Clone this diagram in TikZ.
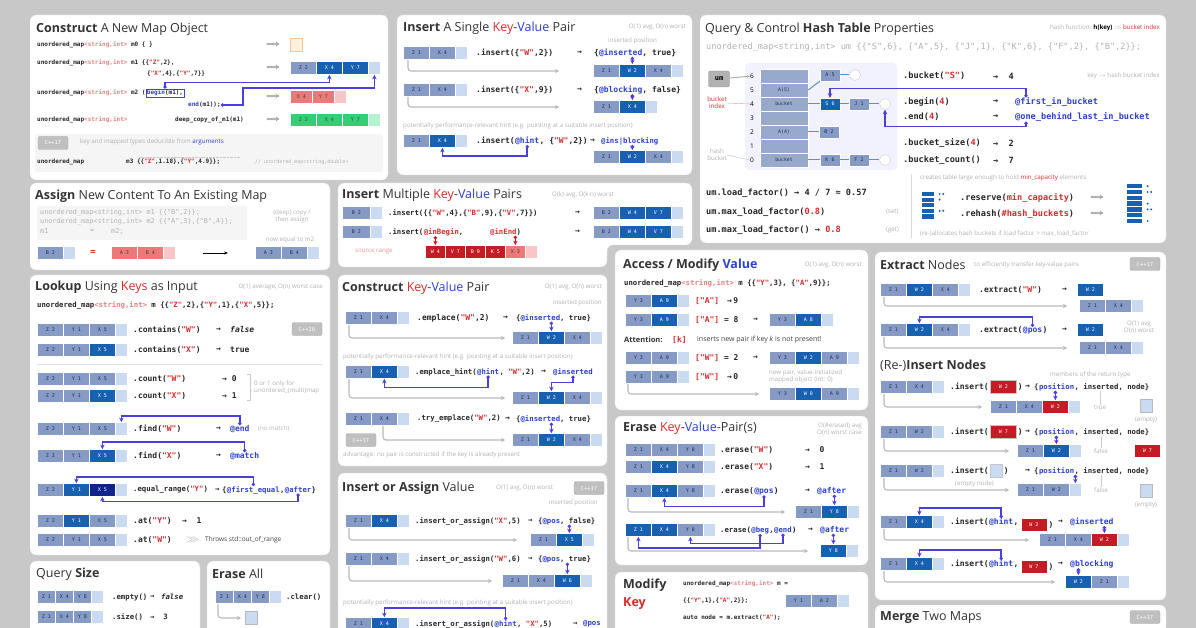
\documentclass[tikz,border=0pt]{standalone}
\usepackage{fontspec}
\usepackage{amssymb}
\setmainfont{Open Sans}
\newfontfamily\codefont{DejaVu Sans Mono}
\usetikzlibrary{arrows.meta,positioning,calc}

\definecolor{bggray}{RGB}{200,200,200}
\definecolor{cellN}{RGB}{133,154,196}
\definecolor{cellE}{RGB}{202,218,241}
\definecolor{cellH}{RGB}{24,96,176}
\definecolor{cellHH}{RGB}{16,36,140}
\definecolor{cellR}{RGB}{236,120,120}
\definecolor{cellRd}{RGB}{196,28,36}
\definecolor{cellER}{RGB}{248,198,198}
\definecolor{cellG}{RGB}{52,206,118}
\definecolor{cellEG}{RGB}{178,242,206}
\definecolor{connblue}{RGB}{74,62,222}
\definecolor{keyred}{RGB}{212,44,44}
\definecolor{valblue}{RGB}{44,64,204}
\definecolor{txtN}{RGB}{36,46,78}

\newcommand\ttxt[1]{\textcolor{keyred!60}{#1}}
\newcommand\ktxt[1]{\textcolor{keyred}{#1}}
\newcommand\itxt[1]{\textcolor{valblue}{#1}}
\newcommand\rarr{→}
\newcommand\Rarr{$\Longrightarrow$}
% one row of map cells: [cell width]{name}{x}{y}{kind/text,...}
\newcommand\maprow[5][26]{%
  \foreach \k/\t [count=\i] in {#5}
    \node[minimum width=#1pt,\k] (#2-\i) at ({#3+(\i-1)*#1},#4) {\t};}

\tikzset{
  panel/.style={fill=white, draw=gray!25, rounded corners=6pt},
  ttl/.style={anchor=west, inner sep=0pt, text=black!80, font=\fontsize{12.5}{14}\selectfont},
  code/.style={anchor=west, inner sep=0pt, text=black!85, font=\codefont\bfseries\fontsize{8}{9}\selectfont},
  code7/.style={code, font=\codefont\bfseries\fontsize{7.3}{8}\selectfont},
  code6/.style={code, font=\codefont\bfseries\fontsize{6}{7}\selectfont},
  codeh/.style={code, font=\codefont\bfseries\fontsize{8.6}{9}\selectfont},
  note/.style={anchor=west, inner sep=0pt, text=gray!60, align=left, font=\fontsize{6.2}{7.2}\selectfont},
  cell/.style={anchor=west, draw=white, line width=0.7pt, minimum height=13pt, inner sep=0pt, font=\codefont\fontsize{5}{6}\selectfont},
  cN/.style={cell, fill=cellN, text=txtN},
  cH/.style={cell, fill=cellH, text=white},
  cHH/.style={cell, fill=cellHH, text=white},
  cE/.style={cell, fill=cellE, minimum width=12pt},
  cR/.style={cell, fill=cellR, text=black!75},
  cRd/.style={cell, fill=cellRd, text=white},
  cER/.style={cell, fill=cellER, minimum width=12pt},
  cG/.style={cell, fill=cellG, text=black!75},
  cEG/.style={cell, fill=cellEG, minimum width=12pt},
  badge/.style={fill=gray!50, draw=gray!65, rounded corners=2pt, text=white, inner sep=0pt, minimum width=30pt, minimum height=13pt, font=\codefont\fontsize{5.5}{6}\selectfont},
  hook/.style={draw=gray!55, line width=1.1pt, rounded corners=3pt, -{Stealth[length=4pt,width=4pt]}},
  conn/.style={draw=connblue, line width=1.4pt, {Circle[length=3.2pt]}-{Stealth[length=4.5pt,width=4.5pt]}},
  bucket/.style={draw=white, line width=0.6pt, fill=cellN!85, minimum width=48pt, minimum height=14pt, inner sep=0pt, text=txtN, font=\codefont\fontsize{4.8}{5}\selectfont},
  hn/.style={draw=white, fill=cellN, minimum width=20pt, minimum height=12pt, inner sep=0pt, text=txtN, font=\codefont\fontsize{5}{6}\selectfont},
  hnull/.style={circle, draw=gray!40, fill=white, minimum size=11pt, inner sep=0pt},
  link/.style={draw=cellH!70, line width=1pt},
}

\begin{document}
\begin{tikzpicture}[x=1pt,y=-1pt]
\useasboundingbox (0,0) rectangle (1196,628);
\fill[bggray] (0,0) rectangle (1196,628);

% construct
\draw[panel] (30,15) rectangle (388,180);
\node[ttl] (t-con) at (36,29) {\textbf{Construct} A New Map Object};
\node[code6] (m0c) at (37,45) {unordered\_map\ttxt{<string,int>} m0 \{ \}};
\node[code] (m0a) at (266,45) {\Rarr};
\node[cell, fill=orange!12, draw=orange!45, minimum width=12pt] (m0-1) at (290,45) {};
\node[code6] (m1c) at (37,63) {unordered\_map\ttxt{<string,int>} m1 \{\{\ktxt{"Z"},2\},};
\node[code6] (m1d) at (147,74) {\{\ktxt{"X"},4\},\{\ktxt{"Y"},7\}\}};
\node[code] (m1a) at (266,68) {\Rarr};
\maprow{m1}{290}{68}{cN/Z 2,cH/X 4,cH/Y 7,cE/{}}
\node[code6] (m2c) at (37,93) {unordered\_map\ttxt{<string,int>} m2 (};
\node[code6, anchor=base west, draw=connblue, inner sep=1pt] (bm1) at (m2c.base east) {\itxt{begin}(m1),};
\node[code6] (em1) at (188,105) {\itxt{end}(m1));};
\node[code] (m2a) at (266,97) {\Rarr};
\maprow[22]{m2}{290}{97}{cR/X 4,cR/Y 7,cER/{}}
\draw[conn] (bm1.north) -- ++(0,-6) -| (m1-2.south);
\draw[conn] (em1.east) -- ++(22,0) |- ($(m1-4.south)+(0,13)$) -- (m1-4.south);
\node[code6] (dcc) at (37,120) {unordered\_map\ttxt{<string,int>}};
\node[code6] (dcd) at (175,120) {deep\_copy\_of\_m1(m1)};
\node[code] (dca) at (266,120) {\Rarr};
\maprow{dc}{290}{120}{cG/Z 2,cG/X 4,cG/Y 7,cEG/{}}
\fill[gray!8, rounded corners=3pt] (35,134) rectangle (383,172);
\node[badge] (b17a) at (53,143) {C++17};
\node[note] (dedn) at (80,142) {key and mapped types deducible from \itxt{arguments}};
\node[code6] (m3c) at (37,162) {unordered\_map};
\node[code6] (m3d) at (126,162) {m3 \{\{\ktxt{"Z"},1.18\},\{\ktxt{"Y"},4.9\}\};};
\node[note, font=\codefont\fontsize{5}{6}\selectfont] (m3n) at (255,162) {// unordered\_map<string,double>};
\draw[gray!45, densely dotted] (m3d.north west) ++(14,-2) -- ++(100,0);

% insert single
\draw[panel] (397,15) rectangle (692,175);
\node[ttl] (t-ins) at (403,28) {\textbf{Insert} A Single \ktxt{Key}-\itxt{Value} Pair};
\node[note, anchor=east] (n-ins) at (686,27) {O(1) avg, O(n) worst};
\node[note] (ip1) at (608,41) {inserted position};
\maprow{i1}{403}{53}{cN/Z 1,cN/X 4,cE/{}}
\node[code] (i1c) at (476,53) {.insert(\{\ktxt{"W"},2\})};
\node[code] (i1a) at (577,53) {\rarr};
\node[code] (i1r) at (594,53) {\{\itxt{@inserted}, true\}};
\maprow{j1}{593}{71}{cN/Z 1,cH/W 2,cN/X 4,cE/{}}
\draw[conn] (i1r.south -| j1-2.north) -- (j1-2.north);
\draw[hook] ([xshift=5pt]i1-1.south west) |- ([xshift=-34pt]j1-1.west);
\maprow{i2}{403}{90}{cN/Z 1,cN/X 4,cE/{}}
\node[code] (i2c) at (476,90) {.insert(\{\ktxt{"X"},9\})};
\node[code] (i2a) at (577,90) {\rarr};
\node[code] (i2r) at (594,90) {\{\itxt{@blocking}, false\}};
\maprow{j2}{593}{107}{cN/Z 1,cH/X 4,cE/{}}
\draw[conn] (i2r.south -| j2-2.north) -- (j2-2.north);
\draw[hook] ([xshift=5pt]i2-1.south west) |- ([xshift=-34pt]j2-1.west);
\node[note] (hint1) at (403,126) {potentially performance-relevant hint (e.g. pointing at a suitable insert position)};
\maprow{i3}{403}{141}{cN/Z 1,cH/X 4,cE/{}}
\node[code] (i3c) at (476,141) {.insert(};
\node[code, anchor=base west] (i3h) at (i3c.base east) {\itxt{@hint}};
\node[code, anchor=base west] (i3d) at (i3h.base east) {, \{\ktxt{"W"},2\})};
\node[code] (i3a) at (590,141) {\rarr};
\node[code7] (i3r) at (601,141) {\itxt{@ins|blocking}};
\maprow{j3}{593}{157}{cN/Z 1,cH/W 2,cN/X 4,cE/{}}
\draw[conn] (i3h.south) -- ++(0,11) -| (i3-2.south);
\draw[conn] (i3r.south -| j3-2.north) -- (j3-2.north);

% hash table
\draw[panel] (700,15) rectangle (1166,243);
\node[ttl] (t-hash) at (705,29) {Query \& Control \textbf{Hash Table} Properties};
\node[note, anchor=east] (n-hash) at (1160,28) {hash function: \textcolor{black}{\textbf{h(key)}} $\Rightarrow$ \ktxt{bucket index}};
\node[code, text=gray!60, font=\codefont\fontsize{8.6}{9}\selectfont] (umc) at (706,47) {unordered\_map<string,int> um \{\{"S",6\}, \{"A",5\}, \{"J",1\}, \{"K",6\}, \{"F",2\}, \{"B",2\}\};};
\fill[blue!5, rounded corners=4pt] (745,63) rectangle (897,170);
\node[fill=gray!60, draw=gray!80, rounded corners=2pt, minimum width=21pt, minimum height=16pt, inner sep=0pt, font=\codefont\bfseries\fontsize{7}{8}\selectfont] (um) at (719,79) {um};
\foreach \b/\l in {6/{},5/A(5),4/bucket,3/{},2/A(4),1/{},0/bucket}{
  \node[inner sep=0pt, font=\fontsize{6.5}{7}\selectfont] (bi-\b) at (752,160-14*\b) {\b};
  \node[bucket] (bk-\b) at (784,160-14*\b) {\l};
}
\draw[gray!70, line width=0.9pt, -{Stealth[length=3pt]}] (um) -- (bi-6);
\node[hn] (hA) at (830,75) {A 5};
\node[hnull] (z6) at (855,75) {};
\node[hn, fill=cellH, text=white] (hS) at (830,104) {S 6};
\node[hn] (hJ) at (859,104) {J 1};
\node[hnull] (z4) at (885,104) {};
\node[hn] (hB) at (829,132) {B 2};
\node[hn] (hK) at (830,160) {K 6};
\node[hn] (hF) at (859,160) {F 2};
\node[hnull] (z0) at (885,160) {};
\draw[link] (bk-5.east) -- (hA.south west);
\draw[link] (hA) -- (z6);
\draw[link] (bk-4) -- (hS) -- (hJ) -- (z4);
\draw[link] (bk-2) -- (hB);
\draw[link] (bk-0) -- (hK) -- (hF) -- (z0);
\node[note, text=keyred, align=center, anchor=center] (lbi) at (717,103) {bucket\\index};
\draw[keyred!50, line width=0.4pt] (lbi.east) -- (bi-4.west);
\node[note, align=center, anchor=center] (lhb) at (717,155) {hash\\bucket};
\draw[gray!50, line width=0.4pt] (lhb.east) -- (bi-0.west);
\node[codeh] (qb) at (903,76) {.bucket(\ktxt{"S"})};
\node[codeh] (qba) at (993,76) {\rarr\ \ 4};
\node[note, anchor=east] (qbn) at (1160,76) {key $\rightarrow$ hash bucket index};
\node[codeh] (qbe) at (903,102) {.begin(\ktxt{4})};
\node[codeh] (qbea) at (993,102) {\rarr};
\node[codeh] (fib) at (1015,102) {\itxt{@first\_in\_bucket}};
\node[codeh] (qen) at (903,117) {.end(\ktxt{4})};
\node[codeh] (qena) at (993,117) {\rarr};
\node[codeh] (obl) at (1015,117) {\itxt{@one\_behind\_last\_in\_bucket}};
\draw[conn] ($(fib.north west)+(11,0)$) |- ($(hS.north)+(0,-9)$) -- (hS.north);
\draw[conn] ($(obl.south west)+(11,0)$) |- ($(z4.south)+(0,17)$) -- (z4.south);
\node[codeh] (qbs) at (903,143) {.bucket\_size(\ktxt{4})};
\node[codeh] (qbsa) at (993,143) {\rarr\ \ 2};
\node[codeh] (qbc) at (903,160) {.bucket\_count()};
\node[codeh] (qbca) at (993,160) {\rarr\ \ 7};
\node[codeh] (lf1) at (706,193) {um.load\_factor() \rarr\ 4 / 7 ≈ 0.57};
\node[codeh] (lf2) at (706,212) {um.max\_load\_factor(\ktxt{0.8})};
\node[note] (lf2n) at (886,212) {(set)};
\node[codeh] (lf3) at (706,230) {um.max\_load\_factor() \rarr\ \ktxt{0.8}};
\node[note] (lf3n) at (886,230) {(get)};
\draw[gray!30] (911,174) -- (911,238);
\node[note] (rsn) at (920,178) {creates table large enough to hold \ktxt{min\_capacity} elements};
\foreach \j in {0,...,4} \fill[cellH] (922,192+\j*5.6) rectangle (934,196.2+\j*5.6);
\foreach \j/\d in {0/2,1/1,3/2} \foreach \m in {1,...,\d} \fill[cellH] (936+\m*3.6,194+\j*5.6) circle (1.1pt);
\node[codeh] (rsv) at (960,198) {.reserve(\ktxt{min\_capacity})};
\node[code] (rsva) at (1090,198) {\Rarr};
\node[codeh] (rhs) at (960,214) {.rehash(\ktxt{\#hash\_buckets})};
\node[code] (rhsa) at (1090,214) {\Rarr};
\foreach \j in {0,...,6} \fill[cellH] (1127,184+\j*5.8) rectangle (1142,188.5+\j*5.8);
\foreach \j/\d in {0/1,1/2,3/1,4/2,6/1} \foreach \m in {1,...,\d} \fill[cellH] (1144+\m*3.6,186.2+\j*5.8) circle (1.1pt);
\node[note] (rhn) at (920,234) {(re-)allocates hash buckets if load factor > max\_load\_factor};

% assign
\draw[panel] (30,183) rectangle (330,270);
\node[ttl] (t-asg) at (35,196) {\textbf{Assign} New Content To An Existing Map};
\fill[gray!8, rounded corners=2pt] (37,206) rectangle (247,240);
\node[code, text=gray!60, font=\codefont\fontsize{6.8}{7}\selectfont] (as1) at (40,213) {unordered\_map<string,int> m1 \{\{"B",2\}\};};
\node[code, text=gray!60, font=\codefont\fontsize{6.8}{7}\selectfont] (as2) at (40,222) {unordered\_map<string,int> m2 \{\{"A",3\},\{"B",4\}\};};
\node[code, text=gray!60, font=\codefont\fontsize{6.8}{7}\selectfont] (as3) at (40,231) {m1};
\node[code, text=gray!60, font=\codefont\fontsize{6.8}{7}\selectfont] (as4) at (90,231) {=};
\node[code, text=gray!60, font=\codefont\fontsize{6.8}{7}\selectfont] (as5) at (111,231) {m2;};
\node[note, align=center, anchor=center] (asn) at (292,216) {(deep) copy /\\then assign};
\node[note, anchor=center] (asn2) at (290,240) {now equal to m2};
\maprow{a1}{37}{253}{cN/B 2,cE/{}}
\node[inner sep=0pt, text=keyred, font=\bfseries\fontsize{10}{10}\selectfont] (aeq) at (93,253) {=};
\maprow{a2}{111}{253}{cR/A 3,cR/B 4,cER/{}}
\maprow{a3}{255}{253}{cN/A 3,cN/B 4,cE/{}}
\draw[line width=0.9pt, -{Stealth[length=4pt]}] ([xshift=27pt]a2-3.east) -- ([xshift=-27pt]a3-1.west);

% insert multiple
\draw[panel] (338,183) -- (692,183) -- (692,245) -- (607,245) -- (607,267) -- (338,267) -- cycle;
\node[ttl] (t-imul) at (342,195) {\textbf{Insert} Multiple \ktxt{Key}-\itxt{Value} Pairs};
\node[note] (n-imul) at (552,195) {O(k) avg, O(k·n) worst};
\maprow[28]{im1}{342}{213}{cN/B 2,cE/{}}
\node[code7] (im1c) at (388,213) {.insert(\{\{\ktxt{"W"},4\},\{\ktxt{"B"},9\},\{\ktxt{"V"},7\}\})};
\node[code] (im1a) at (575,213) {\rarr};
\maprow{im1r}{593}{213}{cN/B 2,cH/W 4,cH/V 7,cE/{}}
\maprow[28]{im2}{342}{232}{cN/B 2,cE/{}}
\node[code7] (im2c) at (388,232) {.insert(};
\node[code7, anchor=base west] (inb) at (im2c.base east) {\ktxt{@inBegin},};
\node[code7] (ine) at (490,232) {\ktxt{@inEnd})};
\node[code] (im2a) at (575,232) {\rarr};
\maprow{im2r}{593}{232}{cN/B 2,cH/W 4,cH/V 7,cE/{}}
\node[note, text=keyred!50] (srcn) at (355,252) {source range};
\maprow[20]{src}{425}{252}{cRd/W 4,cRd/V 7,cRd/B 9,cRd/K 5,cR/X 3,cER/{}}
\draw[conn, draw=cellRd] (inb.south -| src-1.north) -- (src-1.north);
\draw[conn, draw=cellRd] (ine.south -| src-5.north) -- (src-5.north);

% lookup
\draw[panel] (30,275) rectangle (330,555);
\node[ttl] (t-lk) at (35,287) {\textbf{Lookup} Using \ktxt{Keys} as Input};
\node[note, anchor=east] (n-lk) at (323,287) {O(1) average, O(n) worst case};
\node[code7] (lkc) at (37,305) {unordered\_map\ttxt{<string,int>} m \{\{\ktxt{"Z"},2\},\{\ktxt{"Y"},1\},\{\ktxt{"X"},5\}\};};
\maprow{lk1}{37}{330}{cN/Z 2,cN/Y 1,cN/X 5,cE/{}}
\node[code] (lk1c) at (133,330) {.contains(\ktxt{"W"})};
\node[code] (lk1a) at (216,330) {\rarr};
\node[code] (lk1r) at (230,330) {\textit{false}};
\node[badge] (b20) at (307,329) {C++20};
\maprow{lk2}{37}{350}{cN/Z 2,cN/Y 1,cH/X 5,cE/{}}
\node[code] (lk2c) at (133,350) {.contains(\ktxt{"X"})};
\node[code] (lk2a) at (216,350) {\rarr};
\node[code] (lk2r) at (230,350) {true};
\draw[gray!25] (lk2-1.south west) ++(0,7) -- ++(285,0);
\maprow{lk3}{37}{379}{cN/Z 2,cN/Y 1,cN/X 5,cE/{}}
\node[code] (lk3c) at (133,379) {.count(\ktxt{"W"})};
\node[code] (lk3a) at (222,379) {\rarr\ 0};
\maprow{lk4}{37}{396}{cN/Z 2,cN/Y 1,cH/X 5,cE/{}}
\node[code] (lk4c) at (133,396) {.count(\ktxt{"X"})};
\node[code] (lk4a) at (222,396) {\rarr\ 1};
\draw[gray!40] (247,374) -- (250,374) -- (250,400) -- (247,400);
\node[note] (lk4n) at (254,387) {0 or 1 only for\\unordered\_(multi)map};
\maprow{lk5}{37}{429}{cN/Z 2,cN/Y 1,cN/X 5,cE/{}}
\node[code] (lk5c) at (133,429) {.find(\ktxt{"W"})};
\node[code] (lk5a) at (216,429) {\rarr};
\node[code] (lk5r) at (230,429) {\itxt{@end}};
\node[note] (lk5n) at (258,429) {(no match)};
\draw[conn] (lk5r.north) -- ++(0,-9) -| (lk5-4.north);
\maprow{lk6}{37}{456}{cN/Z 2,cN/Y 1,cH/X 5,cE/{}}
\node[code] (lk6c) at (133,456) {.find(\ktxt{"X"})};
\node[code] (lk6a) at (216,456) {\rarr};
\node[code] (lk6r) at (230,456) {\itxt{@match}};
\draw[conn] (lk6r.north) -- ++(0,-10) -| (lk6-3.north);
\maprow{lk7}{37}{490}{cN/Z 2,cH/Y 1,cHH/X 5,cE/{}}
\node[code7] (lk7c) at (133,490) {.equal\_range(\ktxt{"Y"})};
\node[code7] (lk7a) at (215,490) {\rarr};
\node[code7] (lk7b) at (222,490) {\{};
\node[code7, anchor=base west] (lk7f) at (lk7b.base east) {\itxt{@first\_equal}};
\node[code7, anchor=base west] (lk7g) at (lk7f.base east) {, };
\node[code7, anchor=base west] (lk7h) at (lk7g.base east) {\itxt{@after}};
\node[code7, anchor=base west] (lk7i) at (lk7h.base east) {\}};
\draw[conn] (lk7f.north) -- ++(0,-9) -| (lk7-2.north);
\draw[conn] (lk7h.south) -- ++(0,8) -| (lk7-3.south);
\maprow{lk8}{37}{521}{cN/Z 2,cH/Y 1,cN/X 5,cE/{}}
\node[code] (lk8c) at (133,521) {.at(\ktxt{"Y"})};
\node[code] (lk8a) at (182,521) {\rarr\ \ 1};
\maprow{lk9}{37}{540}{cN/Z 2,cN/Y 1,cN/X 5,cE/{}}
\node[code] (lk9c) at (133,540) {.at(\ktxt{"W"})};
\node[inner sep=0pt, anchor=west, text=gray!70] (lk9a) at (186,540) {$\ggg$};
\node[anchor=west, inner sep=0pt, text=black!75, font=\fontsize{6.5}{7}\selectfont] (lk9r) at (205,540) {Throws std::out\_of\_range};

% construct key-value pair
\draw[panel] (338,275) rectangle (607,466);
\node[ttl] (t-ckv) at (342,288) {\textbf{Construct} \ktxt{Key}-\itxt{Value} Pair};
\node[note, anchor=east] (n-ckv) at (602,287) {O(1) avg, O(n) worst};
\node[note, anchor=east] (ck-ip) at (602,303) {inserted position};
\maprow{ck1}{345}{318}{cN/Z 1,cN/X 4,cE/{}}
\node[code] (ck1c) at (417,318) {.emplace(\ktxt{"W"},2)};
\node[code] (ck1a) at (503,318) {\rarr};
\node[code7] (ck1r) at (516,318) {\{\itxt{@inserted}, true\}};
\maprow{ck1x}{512}{338}{cN/Z 1,cH/W 2,cN/X 4,cE/{}}
\draw[conn] (ck1r.south -| ck1x-2.north) -- (ck1x-2.north);
\draw[hook] ([xshift=4pt]ck1-1.south west) |- ([xshift=-7pt]ck1x-1.west);
\node[note] (ck-h) at (343,357) {potentially performance-relevant hint (e.g. pointing at a suitable insert position)};
\maprow{ck2}{345}{372}{cN/Z 1,cH/X 4,cE/{}}
\node[code7] (ck2c) at (415,372) {.emplace\_hint(};
\node[code7, anchor=base west] (ck2h) at (ck2c.base east) {\itxt{@hint}};
\node[code7, anchor=base west] (ck2d) at (ck2h.base east) {, \ktxt{"W"},2)};
\node[code] (ck2a) at (541,372) {\rarr};
\node[code7] (ck2r) at (553,372) {\itxt{@inserted}};
\maprow{ck2x}{512}{398}{cN/Z 1,cH/W 2,cN/X 4,cE/{}}
\draw[conn] (ck2h.south) -- ++(0,12) -| (ck2-2.south);
\draw[conn] (ck2r.south) -- ++(0,7) -| (ck2x-2.north);
\draw[hook] ([xshift=4pt]ck2-1.south west) |- ([xshift=-7pt]ck2x-1.west);
\maprow{ck3}{345}{419}{cN/Z 1,cN/X 4,cE/{}}
\node[code7] (ck3c) at (417,419) {.try\_emplace(\ktxt{"W"},2)};
\node[code] (ck3a) at (505,419) {\rarr};
\node[code7] (ck3r) at (516,419) {\{\itxt{@inserted}, true\}};
\node[badge] (b17b) at (361,440) {C++17};
\maprow{ck3x}{512}{440}{cN/Z 1,cH/W 2,cN/X 4,cE/{}}
\draw[conn] (ck3r.south -| ck3x-2.north) -- (ck3x-2.north);
\draw[hook] ([xshift=38pt]ck3-1.south west) |- ([xshift=-7pt]ck3x-1.west);
\node[note] (ck-adv) at (343,455) {advantage: no pair is constructed if the key is already present};

% access / modify value
\draw[panel] (615,250) rectangle (868,410);
\node[ttl] (t-acc) at (623,265) {\textbf{Access / Modify} \textbf{\itxt{Value}}};
\node[note, anchor=east] (n-acc) at (862,265) {O(1) avg, O(n) worst};
\node[code7] (acc) at (624,283) {unordered\_map\ttxt{<string,int>} m \{\{\ktxt{"Y"},3\}, \{\ktxt{"A"},9\}\};};
\maprow{ac1}{625}{301}{cN/Y 3,cH/A 9,cE/{}}
\node[code] (ac1c) at (695,301) {\ktxt{["A"]}};
\node[code] (ac1r) at (727,301) {\rarr\,9};
\maprow{ac2}{625}{320}{cN/Y 3,cH/A 9,cE/{}}
\node[code] (ac2c) at (695,320) {\ktxt{["A"]} = 8};
\node[code] (ac2a) at (753,320) {\rarr};
\maprow{ac2x}{769}{320}{cN/Y 3,cH/A 8,cE/{}}
\node[anchor=west, inner sep=0pt, text=black!80, font=\bfseries\fontsize{7.5}{8}\selectfont] (att) at (624,340) {Attention:};
\node[code] (attk) at (672,340) {\ktxt{[k]}};
\node[anchor=west, inner sep=0pt, text=black!75, font=\fontsize{7}{8}\selectfont] (attt) at (697,340) {inserts new pair if key \textit{k} is not present!};
\maprow{ac3}{625}{358}{cN/Y 3,cN/A 9,cE/{}}
\node[code] (ac3c) at (695,358) {\ktxt{["W"]} = 2};
\node[code] (ac3a) at (753,358) {\rarr};
\maprow{ac3x}{769}{358}{cN/Y 3,cH/W 2,cN/A 9,cE/{}}
\maprow{ac4}{625}{377}{cN/Y 3,cN/A 9,cE/{}}
\node[code] (ac4c) at (695,377) {\ktxt{["W"]}};
\node[code] (ac4r) at (727,377) {\rarr\,0};
\node[note] (ac4n) at (769,376) {new pair, value-initialized\\mapped object (int: 0)};
\maprow{ac4x}{769}{394}{cN/Y 3,cH/W 0,cN/A 9,cE/{}}
\draw[hook] ([xshift=3pt]ac4-1.south west) |- ([xshift=-10pt]ac4x-1.west);

% extract / re-insert nodes
\draw[panel] (875,252) rectangle (1166,600);
\node[ttl] (t-ext) at (880,265) {\textbf{Extract} Nodes};
\node[note] (n-ext) at (974,265) {to efficiently transfer key-value pairs};
\node[badge] (b17c) at (1145,264) {C++17};
\maprow{ex1}{880}{290}{cN/Z 1,cH/W 2,cN/X 4,cE/{}}
\node[code] (ex1c) at (979,290) {.extract(\ktxt{"W"})};
\node[code] (ex1a) at (1062,290) {\rarr};
\node[cH, minimum width=26pt] (ex1r) at (1077,290) {W 2};
\maprow{ex1x}{1079}{306}{cN/Z 1,cN/X 4,cE/{}}
\draw[hook] ([xshift=4pt]ex1-1.south west) |- ([xshift=-12pt]ex1x-1.west);
\maprow{ex2}{880}{330}{cN/Z 1,cH/W 2,cN/X 4,cE/{}}
\node[code] (ex2c) at (979,330) {.extract(};
\node[code, anchor=base west] (ex2p) at (ex2c.base east) {\itxt{@pos}};
\node[code, anchor=base west] (ex2d) at (ex2p.base east) {)};
\node[code] (ex2a) at (1062,330) {\rarr};
\node[cH, minimum width=26pt] (ex2r) at (1077,330) {W 2};
\node[note, align=center, anchor=center] (ex2n) at (1139,327) {O(1) avg\\O(n) worst};
\draw[conn] (ex2p.north) -- ++(0,-10) -| (ex2-2.north);
\maprow{ex2x}{1079}{348}{cN/Z 1,cN/X 4,cE/{}}
\draw[hook] ([xshift=4pt]ex2-1.south west) |- ([xshift=-12pt]ex2x-1.west);
\node[ttl] (t-rei) at (880,366) {(Re-)\textbf{Insert Nodes}};
\node[note] (n-rei) at (1050,375) {members of the return type};
% re-insert rows
\foreach \r/\y/\yy/\kind/\nt/\tf in {ri1/387/407/cRd/W 2/true, ri2/432/451/cRd/W 7/false, ri3/471/490/cE/{}/false}{
  \node[code] (\r c) at (950,\y) {.insert(};
  \node[minimum width=26pt, \kind, right=1pt of \r c, draw=gray!45] (\r n) {\nt};
  \node[code, right=1pt of \r n] (\r d) {)};
  \node[code] (\r a) at (1025,\y) {\rarr};
  \node[code7] (\r b) at (1034,\y) {\{ };
  \node[code7, anchor=base west] (\r p) at (\r b.base east) {\itxt{position}};
  \node[code7, anchor=base west] (\r q) at (\r p.base east) {, inserted, node\}};
  \node[note] (\r t) at (1094,\yy) {\tf};
  \draw[gray!40, line width=0.4pt] (\r t.north) -- (\r t.north |- \r q.south);
}
\maprow{ri1s}{880}{387}{cN/Z 1,cN/X 4,cE/{}}
\maprow{ri1x}{990}{407}{cN/Z 1,cN/X 4,cRd/W 2,cE/{}}
\draw[conn] (ri1p.south -| ri1x-3.north) -- (ri1x-3.north);
\draw[hook] ([xshift=4pt]ri1s-1.south west) |- ([xshift=-8pt]ri1x-1.west);
\node[cE, draw=gray!55] (ri1e) at (1140,406) {};
\node[note, anchor=center] (ri1m) at (1146,420) {(empty)};
\maprow{ri2s}{880}{432}{cN/Z 1,cN/W 2,cE/{}}
\maprow{ri2x}{1017}{451}{cN/Z 1,cH/W 2,cE/{}}
\draw[conn] (ri2p.south -| ri2x-2.north) -- (ri2x-2.north);
\draw[hook] ([xshift=4pt]ri2s-1.south west) |- ([xshift=-8pt]ri2x-1.west);
\node[cRd, minimum width=26pt] (ri2e) at (1134,451) {W 7};
\maprow{ri3s}{880}{471}{cN/Z 1,cN/W 2,cE/{}}
\node[note] (ri3m) at (955,484) {(empty node)};
\maprow{ri3x}{1017}{490}{cN/Z 1,cN/W 2,cE/{}}
\draw[conn] (ri3p.south -| ri3x-3.north) -- (ri3x-3.north);
\draw[hook] ([xshift=4pt]ri3s-1.south west) |- ([xshift=-8pt]ri3x-1.west);
\node[cE, draw=gray!55] (ri3e) at (1140,491) {};
\node[note, anchor=center] (ri3o) at (1146,505) {(empty)};
\maprow{ri4}{880}{522}{cN/Z 1,cH/X 4,cE/{}}
\node[code] (ri4c) at (950,522) {.insert(};
\node[code, anchor=base west] (ri4h) at (ri4c.base east) {\itxt{@hint}};
\node[code, anchor=base west] (ri4d) at (ri4h.base east) {,};
\node[cRd, minimum width=26pt, right=2pt of ri4d] (ri4n) {W 2};
\node[code, right=1pt of ri4n] (ri4e) {)};
\node[code] (ri4a) at (1058,522) {\rarr};
\node[code] (ri4r) at (1070,522) {\itxt{@inserted}};
\draw[conn] (ri4h.north) -- ++(0,-10) -| (ri4-2.north);
\maprow{ri4x}{1039}{540}{cN/Z 1,cN/X 4,cRd/W 2,cE/{}}
\draw[conn] (ri4r.south -| ri4x-3.north) -- (ri4x-3.north);
\draw[hook] ([xshift=4pt]ri4-1.south west) |- ([xshift=-10pt]ri4x-1.west);
\maprow{ri5}{880}{564}{cN/Z 1,cH/X 4,cE/{}}
\node[code] (ri5c) at (950,564) {.insert(};
\node[code, anchor=base west] (ri5h) at (ri5c.base east) {\itxt{@hint}};
\node[code, anchor=base west] (ri5d) at (ri5h.base east) {,};
\node[cRd, minimum width=26pt, right=2pt of ri5d] (ri5n) {W 7};
\node[code, right=1pt of ri5n] (ri5e) {)};
\node[code] (ri5a) at (1058,564) {\rarr};
\node[code] (ri5r) at (1070,564) {\itxt{@blocking}};
\draw[conn] (ri5h.north) -- ++(0,-10) -| (ri5-2.north);
\maprow{ri5x}{1065}{582}{cH/W 2,cN/Z 1,cE/{}}
\draw[conn] (ri5r.south -| ri5x-1.north) -- (ri5x-1.north);
\draw[hook] ([xshift=4pt]ri5-1.south west) |- ([xshift=-10pt]ri5x-1.west);

% erase
\draw[panel] (615,416) rectangle (868,565);
\node[ttl] (t-er) at (623,428) {\textbf{Erase} \ktxt{Key}-\itxt{Value}-Pair(s)};
\node[note, align=right, anchor=east] (n-er) at (862,429) {O(\#erased) avg\\O(n) worst case};
\maprow{er1}{625}{450}{cN/Z 1,cN/X 4,cN/Y 8,cE/{}}
\node[code] (er1c) at (720,450) {.erase(\ktxt{"W"})};
\node[code] (er1r) at (805,450) {\rarr\ \ 0};
\maprow{er2}{625}{467}{cN/Z 1,cH/X 4,cN/Y 8,cE/{}}
\node[code] (er2c) at (720,467) {.erase(\ktxt{"X"})};
\node[code] (er2r) at (805,467) {\rarr\ \ 1};
\maprow{er3}{625}{491}{cN/Z 1,cH/X 4,cN/Y 8,cE/{}}
\node[code] (er3c) at (720,491) {.erase(};
\node[code, anchor=base west] (er3p) at (er3c.base east) {\itxt{@pos}};
\node[code, anchor=base west] (er3d) at (er3p.base east) {)};
\node[code] (er3a) at (805,491) {\rarr};
\node[code] (er3r) at (817,491) {\itxt{@after}};
\draw[conn] (er3p.south) -- ++(0,11) -| (er3-2.south);
\maprow{er3x}{795}{512}{cN/Z 1,cH/Y 8,cE/{}}
\draw[conn] (er3r.south -| er3x-2.north) -- (er3x-2.north);
\draw[hook] ([xshift=3pt]er3-1.south west) |- ([xshift=-10pt]er3x-1.west);
\maprow{er4}{625}{530}{cH/Z 1,cH/X 4,cN/Y 8,cE/{}}
\node[code7] (er4c) at (720,530) {.erase(};
\node[code7, anchor=base west] (er4b) at (er4c.base east) {\itxt{@beg}};
\node[code7, anchor=base west] (er4d) at (er4b.base east) {, };
\node[code7, anchor=base west] (er4e) at (er4d.base east) {\itxt{@end}};
\node[code7, anchor=base west] (er4f) at (er4e.base east) {)};
\node[code] (er4a) at (808,530) {\rarr};
\node[code] (er4r) at (820,530) {\itxt{@after}};
\draw[conn] (er4b.south) -- ++(0,14) -| (er4-1.south);
\draw[conn] (er4e.south) -- ++(0,10) -| (er4-3.south);
\maprow{er4x}{820}{551}{cH/Y 8,cE/{}}
\draw[conn] (er4r.south -| er4x-1.north) -- (er4x-1.north);
\draw[hook] ([xshift=3pt]er4-1.south west) |- ([xshift=-12pt]er4x-1.west);

% insert or assign
\draw[panel] (338,473) rectangle (607,645);
\node[ttl] (t-ioa) at (342,488) {\textbf{Insert or Assign} Value};
\node[note] (n-ioa) at (496,488) {O(1) avg, O(n) worst};
\node[badge] (b17d) at (589,488) {C++17};
\node[note, anchor=east] (ioa-ip) at (598,503) {inserted position};
\maprow{ia1}{345}{521}{cN/Z 1,cH/X 4,cE/{}}
\node[code7] (ia1c) at (415,521) {.insert\_or\_assign(\ktxt{"X"},5)};
\node[code7] (ia1a) at (528,521) {\rarr};
\node[code7] (ia1r) at (538,521) {\{\itxt{@pos}, false\}};
\maprow{ia1x}{530}{540}{cN/Z 1,cH/X 5,cE/{}}
\draw[conn] (ia1r.south -| ia1x-2.north) -- (ia1x-2.north);
\draw[hook] ([xshift=4pt]ia1-1.south west) |- ([xshift=-13pt]ia1x-1.west);
\maprow{ia2}{345}{559}{cN/Z 1,cN/X 4,cE/{}}
\node[code7] (ia2c) at (415,559) {.insert\_or\_assign(\ktxt{"W"},6)};
\node[code7] (ia2a) at (528,559) {\rarr};
\node[code7] (ia2r) at (538,559) {\{\itxt{@pos}, true\}};
\maprow{ia2x}{502}{581}{cN/Z 1,cN/X 4,cH/W 6,cE/{}}
\draw[conn] (ia2r.south -| ia2x-3.north) -- (ia2x-3.north);
\draw[hook] ([xshift=4pt]ia2-1.south west) |- ([xshift=-10pt]ia2x-1.west);
\node[note] (ia-h) at (343,603) {potentially performance-relevant hint (e.g. pointing at a suitable insert position)};
\maprow{ia3}{345}{624}{cN/Z 1,cH/X 4,cE/{}}
\node[code7] (ia3c) at (415,624) {.insert\_or\_assign(};
\node[code7, anchor=base west] (ia3h) at (ia3c.base east) {\itxt{@hint}};
\node[code7, anchor=base west] (ia3d) at (ia3h.base east) {, \ktxt{"X"},5)};
\node[code7] (ia3a) at (573,624) {\rarr};
\node[code7] (ia3r) at (583,624) {\itxt{@pos}};
\draw[conn] (ia3h.north) -- ++(0,-12) -| (ia3-2.north);

% query size / erase all
\draw[panel] (30,561) rectangle (200,645);
\node[ttl] (t-qs) at (36,574) {Query \textbf{Size}};
\maprow[18]{qs1}{37}{597}{cN/Z 1,cN/X 4,cN/Y 8,cE/{}}
\node[code7] (qs1c) at (112,597) {.empty()};
\node[code7] (qs1a) at (150,597) {\rarr};
\node[code7] (qs1r) at (161,597) {\textit{false}};
\maprow[18]{qs2}{37}{617}{cN/Z 1,cN/X 4,cN/Y 8,cE/{}}
\node[code7] (qs2c) at (112,617) {.size()};
\node[code7] (qs2a) at (150,617) {\rarr\ \ 3};
\draw[panel] (207,561) rectangle (330,645);
\node[ttl] (t-ea) at (212,574) {\textbf{Erase} All};
\maprow[18]{ea1}{215}{597}{cN/Z 1,cN/X 4,cN/Y 8,cE/{}}
\node[code7] (ea1c) at (286,597) {.clear()};
\node[cE, draw=gray!55] (ea1x) at (245,618) {};
\draw[hook] ([xshift=3pt]ea1-1.south west) |- ([xshift=-4pt]ea1x.west);

% modify key
\draw[panel] (615,572) rectangle (868,645);
\node[ttl, font=\bfseries\fontsize{12.5}{14}\selectfont] (t-mk1) at (623,585) {Modify};
\node[ttl, text=keyred, font=\bfseries\fontsize{12.5}{14}\selectfont] (t-mk2) at (623,604) {Key};
\node[code6] (mkc1) at (683,584) {unordered\_map\ttxt{<string,int>} m =};
\node[code6] (mkc2) at (683,601) {\{\{\ktxt{"Y"},1\},\{\ktxt{"A"},2\}\};};
\maprow{mk1}{785}{601}{cN/Y 1,cN/A 2,cE/{}}
\node[code6] (mkc3) at (683,618) {auto node = m.extract(\ktxt{"A"});};
\node[code6] (mkc4) at (683,634) {node.key() = \ktxt{"W"};};
\maprow{mk2}{785}{634}{cN/Y 1,cE/{}}

% merge
\draw[panel] (875,605) rectangle (1166,645);
\node[ttl] (t-mg) at (880,618) {\textbf{Merge} Two Maps};
\node[badge] (b17e) at (1145,617) {C++17};
\end{tikzpicture}
\end{document}
